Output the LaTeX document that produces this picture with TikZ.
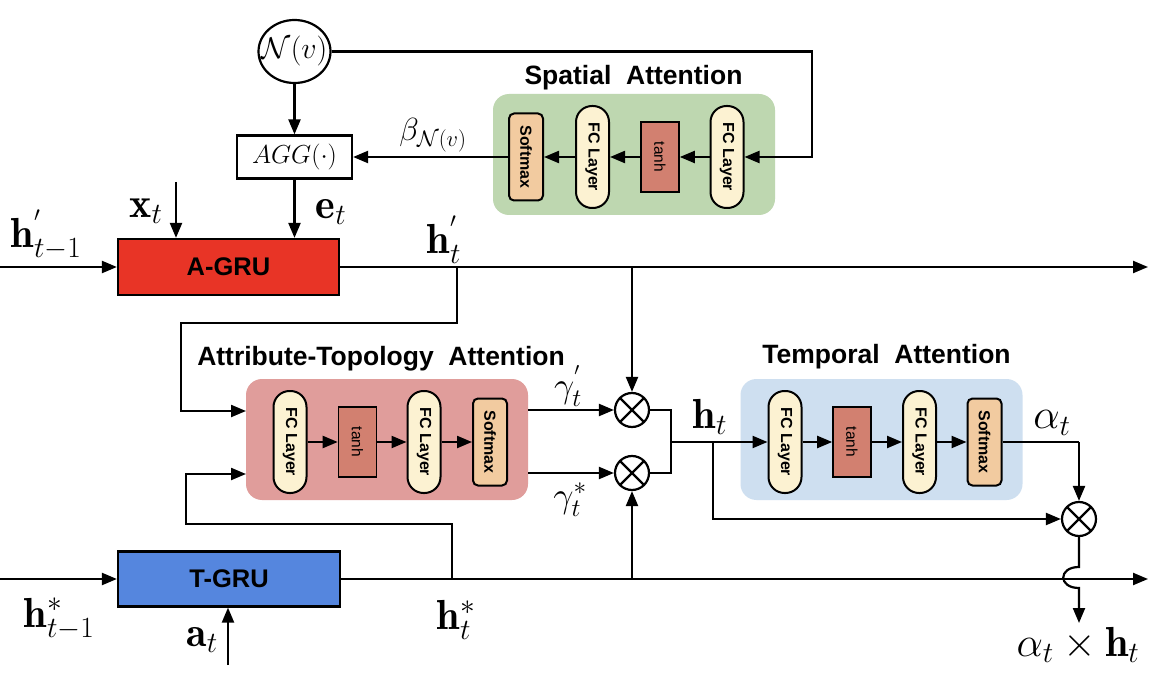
\RequirePackage{fix-cm}
\documentclass[tikz,border=0pt]{standalone}
\usepackage{fontspec}
\newfontfamily\hvfont{Liberation Sans}
\usetikzlibrary{arrows.meta,shapes.geometric}
\definecolor{greenbg}{RGB}{190,215,176}
\definecolor{pinkbg}{RGB}{224,157,155}
\definecolor{bluebg}{RGB}{206,223,240}
\definecolor{fccol}{RGB}{252,242,210}
\definecolor{thcol}{RGB}{210,128,112}
\definecolor{smcol}{RGB}{242,203,160}
\definecolor{agrucol}{RGB}{232,52,38}
\definecolor{tgrucol}{RGB}{85,134,222}
\tikzset{
  conn/.style={line width=2.2pt},
  arr/.style={line width=2.2pt,-{Triangle[length=15pt,width=12pt]}},
  grubox/.style={draw,line width=2.2pt,minimum width=221pt,minimum height=56pt,inner sep=0pt,font=\hvfont\bfseries\fontsize{25.5}{28}\selectfont},
  panel/.style={fill=#1,rounded corners=16pt,minimum width=282pt,minimum height=121pt,inner sep=0pt},
  paneltitle/.style={inner sep=0pt,font=\hvfont\bfseries\fontsize{26.5}{29}\selectfont},
  fcbox/.style={draw,line width=2pt,fill=fccol,rounded corners=16pt,rotate=-90,minimum width=102pt,minimum height=33pt,inner sep=0pt,font=\hvfont\bfseries\fontsize{16}{18}\selectfont},
  thbox/.style={draw,line width=1.6pt,fill=thcol,rotate=-90,minimum width=70pt,minimum height=38pt,inner sep=0pt,font=\hvfont\fontsize{15.5}{17}\selectfont},
  smbox/.style={draw,line width=2pt,fill=smcol,rounded corners=5pt,rotate=-90,minimum width=87pt,minimum height=34pt,inner sep=0pt,font=\hvfont\bfseries\fontsize{16}{18}\selectfont},
  otimesnode/.style={circle,draw,line width=2.2pt,minimum size=34pt,inner sep=0pt,
    path picture={\draw[line width=2.2pt] (path picture bounding box.north west) -- (path picture bounding box.south east)
      (path picture bounding box.north east) -- (path picture bounding box.south west);}},
  biglbl/.style={inner sep=0pt,font=\fontsize{42}{44}\selectfont},
  midlbl/.style={inner sep=0pt,font=\fontsize{36}{38}\selectfont},
  smalllbl/.style={inner sep=0pt,font=\fontsize{32}{34}\selectfont}
}
\begin{document}
\begin{tikzpicture}[x=1pt,y=-1pt]
\useasboundingbox (0,0) rectangle (1152,687);
\fill[white] (0,0) rectangle (1152,687);

% ---------- top: N(v), AGG, spatial attention ----------
\node[draw,ellipse,line width=2.2pt,minimum width=72pt,minimum height=63pt,inner sep=0pt,font=\fontsize{30}{32}\selectfont] (nv) at (294.5,51.5) {\makebox[0pt]{$\mathcal{N}(v)$}};
\node[draw,line width=2.2pt,minimum width=115pt,minimum height=43pt,inner sep=0pt,font=\fontsize{26}{28}\selectfont] (agg) at (294.5,157) {$AGG(\cdot)$};

\node[panel=greenbg] (sa) at (634,154.5) {};
\node[paneltitle] (satitle) at (633.5,78) {Spatial\ \ Attention};
\node[smbox] (sm1) at (526,157) {Softmax};
\node[fcbox] (fc1a) at (592.5,157) {FC Layer};
\node[thbox] (th1) at (660,157) {tanh};
\node[fcbox] (fc1b) at (727,157) {FC Layer};

\coordinate (c1) at (812,51.5);
\coordinate (c2) at (812,157);
\draw[arr] (nv) -- (c1) -- (c2) -- (fc1b);
\draw[arr] (fc1b) -- (th1);
\draw[arr] (th1) -- (fc1a);
\draw[arr] (fc1a) -- (sm1);
\draw[arr] (sm1) -- (agg);
\draw[arr] (nv) -- (agg);
\node[smalllbl] (betalbl) at (433,135) {$\beta_{\mathcal{N}(v)}$};

% ---------- A-GRU ----------
\node[grubox,fill=agrucol] (agru) at (228.5,267) {A-GRU};
\coordinate (in1) at (0,267);
\coordinate (in2) at (176,182);
\draw[arr] (in1) -- (agru);
\draw[arr] (in2) -- (in2 |- agru.north);
\draw[arr] (agg) -- (agg.south |- agru.north);
\node[biglbl] (xlbl) at (146,211) {$\mathbf{x}_t$};
\node[biglbl] (elbl) at (331,212) {$\mathbf{e}_t$};
\node[biglbl] (hpm1) at (46,235) {$\mathbf{h}^{'}_{t-1}$};
\node[biglbl] (hplbl) at (444,240) {$\mathbf{h}^{'}_{t}$};
\coordinate (aend) at (1148,267);
\draw[arr] (agru) -- (aend);

% ---------- attribute-topology attention ----------
\node[panel=pinkbg] (ata) at (387,439.5) {};
\node[paneltitle] (atatitle) at (381,359) {Attribute-Topology\ \ Attention};
\node[fcbox] (fc2a) at (290,442) {FC Layer};
\node[thbox] (th2) at (357.5,442) {tanh};
\node[fcbox] (fc2b) at (424,442) {FC Layer};
\node[smbox] (sm2) at (490,442) {Softmax};
\draw[arr] (fc2a) -- (th2);
\draw[arr] (th2) -- (fc2b);
\draw[arr] (fc2b) -- (sm2);

\coordinate (pin1) at (246,411);
\coordinate (pin2) at (246,474);
\coordinate (pout1) at (528,410);
\coordinate (pout2) at (528,473);

\coordinate (b1) at (457,267);
\coordinate (b2) at (457,323);
\coordinate (b3) at (181,323);
\draw[arr] (b1) -- (b2) -- (b3) |- (pin1);

\node[otimesnode] (o1) at (632,410) {};
\node[otimesnode] (o2) at (632,473) {};
\coordinate (b5) at (632,267);
\draw[arr] (b5) -- (o1);
\draw[arr] (pout1) -- (o1);
\draw[arr] (pout2) -- (o2);
\node[midlbl] (g1lbl) at (568,386) {$\gamma^{'}_{t}$};
\node[midlbl] (g2lbl) at (570,500) {$\gamma^{*}_{t}$};

\coordinate (j1) at (671,410);
\coordinate (j2) at (671,473);
\coordinate (j3) at (671,442);
\draw[conn] (o1) -- (j1) -- (j2) -- (o2);

% ---------- temporal attention ----------
\node[panel=bluebg] (ta) at (881.5,439.5) {};
\node[paneltitle] (tatitle) at (886.5,357) {Temporal\ \ Attention};
\node[fcbox] (fc3a) at (785,442) {FC Layer};
\node[thbox] (th3) at (852,442) {tanh};
\node[fcbox] (fc3b) at (919.5,442) {FC Layer};
\node[smbox] (sm3) at (984.5,442) {Softmax};
\draw[arr] (j3) -- (fc3a);
\draw[arr] (fc3a) -- (th3);
\draw[arr] (th3) -- (fc3b);
\draw[arr] (fc3b) -- (sm3);
\node[biglbl] (htlbl) at (710,417) {$\mathbf{h}_t$};

\node[otimesnode] (o3) at (1079,519) {};
\coordinate (j4) at (713,442);
\coordinate (j5) at (713,519);
\draw[arr] (j4) -- (j5) -- (o3);
\coordinate (j6) at (1079,442);
\draw[conn] (sm3) -- (j6);
\draw[arr] (j6) -- (o3);
\node[biglbl] (alpha) at (1052,423) {$\alpha_t$};

\coordinate (hp1) at (1079,567);
\coordinate (hp2) at (1079,588);
\coordinate (outend) at (1079,623);
\draw[arr] (o3) -- (hp1) .. controls (1058,567) and (1058,588) .. (hp2) -- (outend);
\node[biglbl] (outlbl) at (1078,645) {$\alpha_t \times \mathbf{h}_t$};

% ---------- T-GRU ----------
\node[grubox,fill=tgrucol,minimum width=222pt,minimum height=55pt] (tgru) at (229,579) {T-GRU};
\coordinate (in3) at (0,579);
\coordinate (in4) at (228,665);
\draw[arr] (in3) -- (tgru);
\draw[arr] (in4) -- (in4 |- tgru.south);
\coordinate (tend) at (1148,579);
\draw[arr] (tgru) -- (tend);
\coordinate (t1) at (452,579);
\coordinate (t2) at (452,524);
\coordinate (t3) at (186,524);
\draw[arr] (t1) -- (t2) -- (t3) |- (pin2);
\coordinate (t4) at (632,579);
\draw[arr] (t4) -- (o2);
\node[biglbl] (hsm1) at (59,619) {$\mathbf{h}^{*}_{t-1}$};
\node[biglbl] (hslbl) at (456,620) {$\mathbf{h}^{*}_{t}$};
\node[biglbl] (albl) at (202,640) {$\mathbf{a}_t$};
\end{tikzpicture}
\end{document}
